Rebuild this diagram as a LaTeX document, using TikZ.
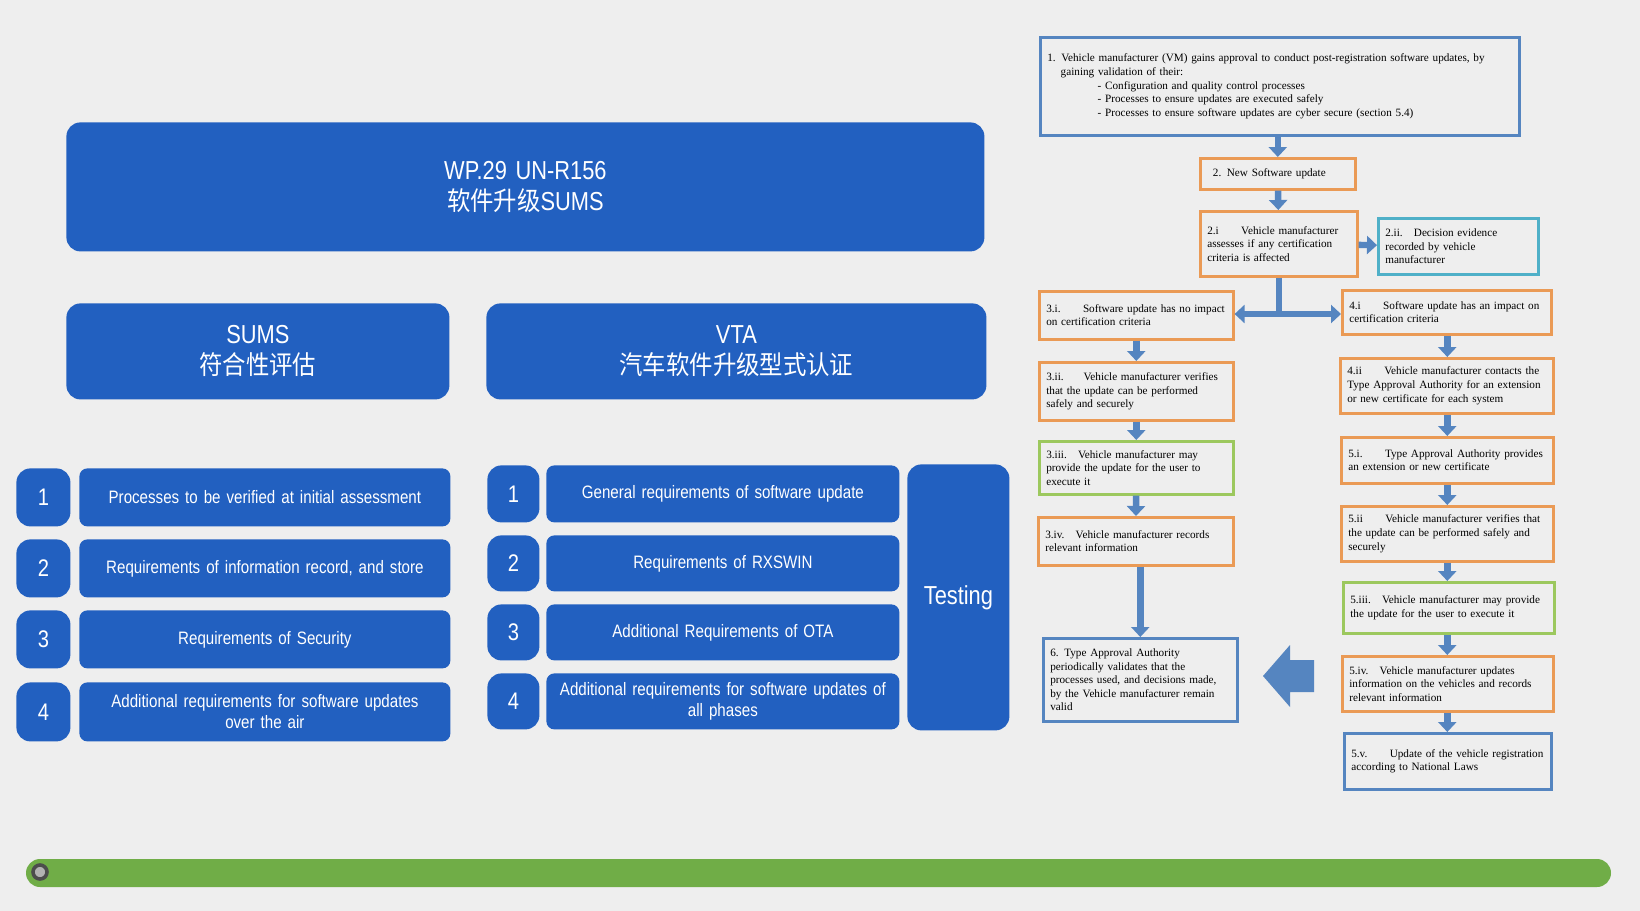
\documentclass[tikz,border=0pt]{standalone}
\usepackage{fontspec}
\setmainfont{Liberation Serif}
\newfontfamily\narrow[FakeStretch=0.84]{Liberation Sans}
\newfontfamily\cjk[FakeStretch=0.9]{Noto Sans CJK SC}
\usetikzlibrary{arrows.meta}
\hyphenpenalty=10000
\definecolor{bg}{HTML}{EEEEEE}
\definecolor{mblue}{HTML}{2260C0}
\definecolor{fblue}{HTML}{5585C0}
\definecolor{forange}{HTML}{EA9A55}
\definecolor{fgreen}{HTML}{9CC85E}
\definecolor{fteal}{HTML}{4FB0C8}
\definecolor{bar}{HTML}{70AD47}
\newcommand{\bx}[7]{\node[#6,anchor=north west,minimum width={(#4-#2)*0.5pt},minimum height={(#5-#3)*0.5pt},text width={(#4-#2)*0.5pt-7pt}] (#1) at (#2,#3) {#7};}
\tikzset{
 blk/.style={fill=mblue,rounded corners=4pt,text=white,align=center,inner sep=2pt,font=\narrow\fontsize{9}{10.5}\selectfont},
 big/.style={blk,rounded corners=7pt,font=\narrow\fontsize{13}{15.5}\selectfont},
 fl/.style={draw,line width=1.3pt,fill=bg,align=left,inner sep=3pt,font=\fontsize{5.6}{6.8}\selectfont},
 fb/.style={fl,draw=fblue}, fo/.style={fl,draw=forange}, fg/.style={fl,draw=fgreen}, ft/.style={fl,draw=fteal},
 ar/.style={draw=fblue,line width=3.2pt,-{Triangle[width=9pt,length=5pt]}},
}
\begin{document}
\begin{tikzpicture}[x=0.5pt,y=-0.5pt]
\fill[bg] (0,0) rectangle (1640,911);
\useasboundingbox (0,0) rectangle (1640,911);
% left blocks
\bx{title}{66}{122}{984}{251}{big}{WP.29 UN-R156\\ {\cjk 软件升级}SUMS}
\bx{sums}{66}{303}{449}{399}{big}{SUMS\\ {\cjk 符合性评估}}
\bx{vta}{486}{303}{986}{399}{big}{VTA\\ {\cjk 汽车软件升级型式认证}}
\bx{ln1}{16}{468}{70}{526}{big,font=\narrow\fontsize{12}{14}\selectfont}{1}
\bx{ln2}{16}{539}{70}{597}{big,font=\narrow\fontsize{12}{14}\selectfont}{2}
\bx{ln3}{16}{610}{70}{668}{big,font=\narrow\fontsize{12}{14}\selectfont}{3}
\bx{ln4}{16}{682}{70}{741}{big,font=\narrow\fontsize{12}{14}\selectfont}{4}
\bx{lt1}{79}{468}{450}{526}{blk}{Processes to be verified at initial assessment}
\bx{lt2}{79}{539}{450}{597}{blk}{Requirements of information record, and store}
\bx{lt3}{79}{610}{450}{668}{blk}{Requirements of Security}
\bx{lt4}{79}{682}{450}{741}{blk}{Additional requirements for software updates\\ over the air}
\bx{mn1}{487}{465}{539}{522}{big,font=\narrow\fontsize{12}{14}\selectfont}{1}
\bx{mn2}{487}{535}{539}{591}{big,font=\narrow\fontsize{12}{14}\selectfont}{2}
\bx{mn3}{487}{604}{539}{660}{big,font=\narrow\fontsize{12}{14}\selectfont}{3}
\bx{mn4}{487}{673}{539}{729}{big,font=\narrow\fontsize{12}{14}\selectfont}{4}
\bx{mt1}{546}{465}{899}{522}{blk}{General requirements of software update}
\bx{mt2}{546}{535}{899}{591}{blk}{Requirements of RXSWIN}
\bx{mt3}{546}{604}{899}{660}{blk}{Additional Requirements of OTA}
\bx{mt4}{546}{673}{899}{729}{blk}{Additional requirements for software updates\ of\\ all phases}
\bx{test}{907}{464}{1009}{730}{big}{Testing}
% bar
\fill[bar] (26,859) [rounded corners=7pt] rectangle (1611,887);
\node[circle,draw=black!70,line width=1.8pt,fill=black!30,inner sep=0pt,minimum size=7pt] (dot) at (40,872) {};
% flowchart
\bx{b1}{1039}{36}{1518}{134}{fb}{1.\enspace Vehicle manufacturer (VM) gains approval to conduct post-registration software updates, by\\
\hspace*{1.2em}gaining validation of their:\\
\hspace*{4.5em}- Configuration and quality control processes\\
\hspace*{4.5em}- Processes to ensure updates are executed safely\\
\hspace*{4.5em}- Processes to ensure software updates are cyber secure (section 5.4)}
\bx{b2}{1199}{157}{1354}{188}{fo}{\enspace2.\enspace New Software update}
\bx{b2i}{1199}{210}{1356}{275}{fo}{2.i\qquad Vehicle manufacturer assesses if any certification criteria is affected}
\bx{b2ii}{1377}{217}{1537}{273}{ft}{2.ii.\quad Decision evidence recorded by vehicle manufacturer}
\bx{b3i}{1038}{290}{1232}{338}{fo}{3.i.\qquad Software update has no impact on certification criteria}
\bx{b4i}{1341}{289}{1550}{333}{fo}{4.i\qquad Software update has an impact on certification criteria}
\bx{b3ii}{1038}{361}{1232}{419}{fo}{3.ii.\quad\; Vehicle manufacturer verifies that the update can be performed safely and securely}
\bx{b4ii}{1339}{357}{1552}{412}{fo}{4.ii\qquad Vehicle manufacturer contacts the Type Approval Authority for an extension or new certificate for each system}
\bx{b3iii}{1038}{440}{1232}{493}{fg}{3.iii.\quad Vehicle manufacturer may provide the update for the user to execute it}
\bx{b5i}{1340}{436}{1552}{482}{fo}{5.i.\qquad Type Approval Authority provides an extension or new certificate}
\bx{b3iv}{1037}{516}{1232}{564}{fo}{3.iv.\quad Vehicle manufacturer records relevant information}
\bx{b5ii}{1340}{505}{1552}{560}{fo}{5.ii\qquad Vehicle manufacturer verifies that the update can be performed safely and securely}
\bx{b5iii}{1342}{581}{1553}{632}{fg}{5.iii.\quad Vehicle manufacturer may provide the update for the user to execute it}
\bx{b6}{1042}{637}{1236}{720}{fb}{6.\enspace Type Approval Authority periodically validates that the processes used, and decisions made, by the Vehicle manufacturer remain valid}
\bx{b5iv}{1341}{655}{1552}{710}{fo}{5.iv.\quad Vehicle manufacturer updates information on the vehicles and records relevant information}
\bx{b5v}{1343}{732}{1550}{788}{fb}{5.v.\qquad Update of the vehicle registration according to National Laws}
% arrows
\draw[ar] (b1.south -| b2) -- (b2.north);
\draw[ar] (b2) -- (b2i);
\draw[ar] (b2i) -- (b2ii);
\coordinate (jn) at (b2i.south |- 0,314);
\draw[draw=fblue,line width=3.2pt] (b2i.south) -- (jn);
\draw[ar] (jn) -- (jn -| b3i.east);
\draw[ar] (jn) -- (jn -| b4i.west);
\draw[ar] (b3i) -- (b3ii);
\draw[ar] (b3ii) -- (b3iii);
\draw[ar] (b3iii) -- (b3iv);
\draw[ar] (b3iv.south -| b6) -- (b6.north);
\draw[ar] (b4i.south -| b5ii) -- (b4ii.north -| b5ii);
\draw[ar] (b4ii.south -| b5ii) -- (b5i.north -| b5ii);
\draw[ar] (b5i.south -| b5ii) -- (b5ii.north);
\draw[ar] (b5ii.south) -- (b5iii.north -| b5ii);
\draw[ar] (b5iii.south -| b5ii) -- (b5iv.north -| b5ii);
\draw[ar] (b5iv.south -| b5ii) -- (b5v.north -| b5ii);
\fill[fblue] (1314,660) -- (1290,660) -- (1290,645) -- (1263,676) -- (1290,707) -- (1290,692) -- (1314,692) -- cycle;
\end{tikzpicture}
\end{document}
